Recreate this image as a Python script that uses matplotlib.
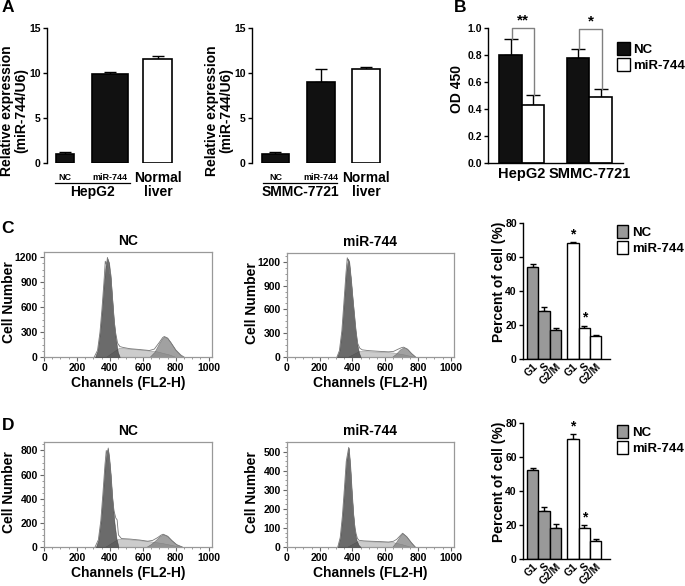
import numpy as np
import matplotlib
matplotlib.use("Agg")
import matplotlib.pyplot as plt
from matplotlib.patches import Patch
from matplotlib.ticker import MultipleLocator

plt.rcParams['font.family'] = ['Liberation Sans', 'DejaVu Sans']
plt.rcParams['font.weight'] = 'bold'
plt.rcParams['axes.labelweight'] = 'bold'
plt.rcParams['axes.titleweight'] = 'bold'

# ---- A: relative expression ----
expr_groups = ['NC', 'miR-744', 'Normal liver']
hepg2_expr = [1.0, 9.9, 11.6]
hepg2_err = [0.2, 0.2, 0.3]
smmc_expr = [1.0, 9.0, 10.4]
smmc_err = [0.25, 1.4, 0.25]

# ---- B: OD 450 ----
od_cells = ['HepG2', 'SMMC-7721']
od_nc = [0.80, 0.78]
od_nc_err = [0.12, 0.065]
od_mir = [0.43, 0.49]
od_mir_err = [0.075, 0.06]

# ---- C / D: cell cycle percentages ----
phases = ['G1', 'S', 'G2/M']
c_nc = [54, 28.5, 17]
c_nc_err = [2, 1.8, 1.2]
c_mir = [68, 18, 13.5]
c_mir_err = [1, 1.7, 0.8]
d_nc = [52.5, 28.5, 18]
d_nc_err = [1, 1.8, 2.7]
d_mir = [70.5, 18.5, 10.5]
d_mir_err = [3, 1.5, 1.5]

# ---- C / D: flow histograms (channel, cell count) ----
c_nc_g1_ch = [310, 325, 340, 352, 364, 375, 385, 395, 405, 415, 425, 435, 448, 460]
c_nc_g1_n = [0, 80, 300, 580, 900, 1120, 1185, 1130, 950, 680, 420, 230, 60, 0]
c_nc_s_ch = [375, 455, 520, 600, 680, 760, 800]
c_nc_s_n = [0, 110, 100, 85, 70, 30, 0]
c_nc_g2_ch = [640, 670, 700, 720, 730, 750, 770, 800, 830, 845]
c_nc_g2_n = [0, 60, 170, 230, 245, 225, 170, 80, 20, 0]
c_nc_raw_ch = [305, 325, 340, 352, 364, 372, 380, 385, 392, 398, 405, 415, 425, 435, 447, 461,
               480, 520, 580, 640, 670, 700, 720, 730, 750, 770, 800, 830, 850]
c_nc_raw_n = [0, 80, 300, 580, 900, 1150, 1100, 1195, 1100, 1000, 1000, 720, 450, 290, 165, 125,
              115, 100, 90, 78, 95, 175, 232, 246, 228, 175, 85, 25, 0]

c_mir_g1_ch = [305, 320, 335, 348, 360, 372, 380, 392, 404, 416, 428, 440, 450]
c_mir_g1_n = [0, 80, 330, 700, 1050, 1240, 1200, 950, 650, 380, 170, 50, 0]
c_mir_s_ch = [370, 440, 500, 600, 650, 720, 780]
c_mir_s_n = [0, 75, 72, 64, 56, 30, 0]
c_mir_g2_ch = [640, 665, 690, 712, 735, 760, 785]
c_mir_g2_n = [0, 40, 95, 122, 100, 45, 0]
c_mir_raw_ch = [305, 320, 335, 348, 360, 368, 375, 385, 398, 410, 422, 432, 445, 460, 500, 560,
                620, 650, 680, 700, 712, 735, 760, 785]
c_mir_raw_n = [0, 80, 330, 700, 1050, 1250, 1200, 1100, 820, 580, 320, 170, 110, 90, 80, 72,
               65, 70, 100, 118, 124, 100, 45, 0]

d_nc_g1_ch = [315, 330, 345, 358, 370, 380, 388, 396, 405, 415, 428, 440, 452]
d_nc_g1_n = [0, 60, 220, 450, 680, 790, 815, 740, 600, 400, 200, 70, 0]
d_nc_s_ch = [370, 450, 500, 580, 650, 720, 780, 830]
d_nc_s_n = [0, 68, 66, 56, 46, 32, 15, 0]
d_nc_g2_ch = [620, 650, 680, 700, 723, 750, 775, 805, 840]
d_nc_g2_n = [0, 25, 60, 88, 106, 90, 55, 20, 0]
d_nc_raw_ch = [310, 330, 345, 358, 370, 378, 384, 390, 396, 405, 415, 425, 436, 444, 452, 470,
               520, 580, 630, 660, 690, 710, 723, 750, 775, 805, 840]
d_nc_raw_n = [0, 60, 220, 450, 680, 800, 760, 820, 740, 600, 420, 300, 240, 225, 100, 70,
              66, 58, 48, 55, 78, 98, 106, 90, 55, 20, 0]

d_mir_g1_ch = [310, 325, 338, 350, 362, 377, 386, 395, 405, 415, 425, 438, 450]
d_mir_g1_n = [0, 50, 160, 300, 450, 520, 430, 300, 170, 80, 35, 10, 0]
d_mir_s_ch = [365, 430, 500, 580, 650, 700, 760]
d_mir_s_n = [0, 30, 30, 27, 25, 15, 0]
d_mir_g2_ch = [642, 665, 690, 706, 730, 760, 783]
d_mir_g2_n = [0, 25, 58, 72, 55, 22, 0]
d_mir_raw_ch = [310, 325, 338, 350, 362, 377, 386, 395, 405, 415, 422, 430, 440, 470, 520, 580,
                620, 650, 670, 690, 706, 730, 760, 783]
d_mir_raw_n = [0, 50, 160, 300, 450, 522, 430, 300, 180, 100, 70, 45, 35, 32, 30, 28,
               26, 30, 40, 58, 72, 55, 22, 0]

W, H = 685, 586
fig = plt.figure(figsize=(W / 100, H / 100), dpi=100)


def px_axes(left, top, right, bottom):
    # axes placed by pixel box (origin top-left)
    return fig.add_axes([left / W, 1 - bottom / H, (right - left) / W, (bottom - top) / H])


def below(ax, x, px, text, size, **kw):
    ax.annotate(text, xy=(x, 0), xycoords=('data', 'axes fraction'),
                xytext=(0, -px * 0.72), textcoords='offset points',
                ha='center', va='center', fontsize=size, annotation_clip=False, **kw)


def style_bar_axes(ax):
    for s in ['top', 'right']:
        ax.spines[s].set_visible(False)
    ax.spines['left'].set_linewidth(1.0)
    ax.spines['bottom'].set_linewidth(1.0)
    ax.tick_params(axis='y', labelsize=7.5, length=3, width=1, pad=1.5)


def up_err(ax, x, y, err, cap):
    ax.errorbar(x, y, yerr=[np.zeros(len(err)), err], fmt='none', ecolor='black',
                elinewidth=1.0, capsize=cap, capthick=1.0, zorder=1)


# ---------------- Panel A ----------------
def expr_panel(ax, vals, errs, pos, widths, line_span, cell):
    colors = ['#111111', '#111111', 'white']
    up_err(ax, pos, vals, errs, 4)
    ax.bar(pos, vals, width=widths, color=colors, edgecolor='black', linewidth=1.2, zorder=2)
    style_bar_axes(ax)
    ax.spines['bottom'].set_visible(False)
    ax.set_ylim(0, 15)
    ax.set_yticks([0, 5, 10, 15])
    ax.set_xticks([])
    ax.set_xlim(0, 140)
    below(ax, pos[0], 14, expr_groups[0], 6.5)
    below(ax, pos[1], 14, expr_groups[1], 6.5)
    ax.plot(line_span, [-20 / 135] * 2, transform=ax.get_xaxis_transform(),
            color='black', lw=0.9, clip_on=False)
    below(ax, sum(line_span) / 2, 29, cell, 10)
    below(ax, pos[2], 22, 'Normal\nliver', 10, linespacing=1.0)
    ax.set_ylabel('Relative expression\n(miR-744/U6)', fontsize=10, linespacing=1.05)
    ax.yaxis.set_label_coords(-0.135, 0.39)


axA1 = px_axes(47, 28, 187, 163)
expr_panel(axA1, hepg2_expr, hepg2_err, [17.5, 63, 111], [18, 36, 29], [8, 83], 'HepG2')

axA2 = px_axes(252, 28, 392, 163)
expr_panel(axA2, smmc_expr, smmc_err, [23.5, 69, 114], [27.5, 27.5, 27.5], [11, 85], 'SMMC-7721')

# ---------------- Panel B ----------------
axB = px_axes(488, 28, 623, 163)
xb = np.arange(len(od_cells))
bw = 1 / 3
up_err(axB, xb - bw / 2, od_nc, od_nc_err, 5)
up_err(axB, xb + bw / 2, od_mir, od_mir_err, 5)
axB.bar(xb - bw / 2, od_nc, width=bw, color='#111111', edgecolor='black', linewidth=1.2,
        zorder=2, label='NC')
axB.bar(xb + bw / 2, od_mir, width=bw, color='white', edgecolor='black', linewidth=1.2,
        zorder=2, label='miR-744')
style_bar_axes(axB)
axB.set_xlim(-0.5, 1.5)
axB.set_ylim(0, 1.0)
axB.set_yticks(np.arange(0, 1.01, 0.2))
axB.set_yticklabels([f'{v:.1f}' for v in np.arange(0, 1.01, 0.2)])
axB.set_xticks(xb)
axB.set_xticklabels(od_cells, fontsize=10.5)
axB.tick_params(axis='x', length=0, pad=3)
axB.set_ylabel('OD 450', fontsize=10)
axB.yaxis.set_label_coords(-0.18, 0.55)
# significance brackets
for i, (tops, stars) in enumerate(zip([(0.92, 0.505), (0.845, 0.55)], ['**', '*'])):
    xl, xr = xb[i] - bw / 2 + 0.02, xb[i] + bw / 2 + 0.02
    ytop = 1.0 if i == 0 else 0.99
    axB.plot([xl, xl, xr, xr], [tops[0], ytop, ytop, tops[1]], color='#808080', lw=1.0,
             clip_on=False, zorder=3)
    axB.text((xl + xr) / 2, ytop + 0.005, stars, ha='center', va='bottom', fontsize=11)
axB.legend(handles=[Patch(facecolor='#111111', edgecolor='black', label='NC'),
                    Patch(facecolor='white', edgecolor='black', label='miR-744')],
           loc='upper left', bbox_to_anchor=(617 / W, 1 - 42 / H), bbox_transform=fig.transFigure,
           frameon=False, fontsize=9.5, handlelength=0.95, handleheight=1.1,
           handletextpad=0.25, labelspacing=0.2, borderaxespad=0, borderpad=0)


# ---------------- Histograms ----------------
def hist_panel(ax, title, ymax, ystep, g1, s, g2, raw):
    ax.fill_between(s[0], s[1], color='#cccccc', lw=0.4, edgecolor='#9a9a9a', zorder=1)
    ax.fill_between(g2[0], g2[1], color='#7a7a7a', alpha=0.7, lw=0.4, edgecolor='#555555', zorder=2)
    ax.fill_between(g1[0], g1[1], color='#3a3a3a', alpha=0.75, lw=0.4, edgecolor='#333333', zorder=3)
    ax.plot(raw[0], raw[1], color='#777777', lw=0.6, zorder=4)
    ax.set_xlim(0, 1020)
    ax.set_ylim(0, ymax)
    ax.xaxis.set_major_locator(MultipleLocator(200))
    ax.xaxis.set_minor_locator(MultipleLocator(50))
    ax.yaxis.set_major_locator(MultipleLocator(ystep))
    ax.yaxis.set_minor_locator(MultipleLocator(ystep / 4))
    for sp in ax.spines.values():
        sp.set_color('#999999')
        sp.set_linewidth(0.9)
    ax.tick_params(which='major', labelsize=7.5, length=3, width=0.8, color='#666666', pad=1.5)
    ax.tick_params(which='minor', length=1.5, width=0.6, color='#888888')
    ax.set_title(title, fontsize=10, pad=5)
    ax.set_xlabel('Channels (FL2-H)', fontsize=10, labelpad=2)
    ax.set_ylabel('Cell Number', fontsize=10)
    ax.yaxis.set_label_coords(-0.165, 0.52)


axC1 = px_axes(44, 252, 212, 357)
hist_panel(axC1, 'NC', 1260, 300, (c_nc_g1_ch, c_nc_g1_n), (c_nc_s_ch, c_nc_s_n),
           (c_nc_g2_ch, c_nc_g2_n), (c_nc_raw_ch, c_nc_raw_n))
axC2 = px_axes(287, 253, 454, 357)
hist_panel(axC2, 'miR-744', 1310, 300, (c_mir_g1_ch, c_mir_g1_n), (c_mir_s_ch, c_mir_s_n),
           (c_mir_g2_ch, c_mir_g2_n), (c_mir_raw_ch, c_mir_raw_n))
axD1 = px_axes(44, 442, 212, 547)
hist_panel(axD1, 'NC', 870, 200, (d_nc_g1_ch, d_nc_g1_n), (d_nc_s_ch, d_nc_s_n),
           (d_nc_g2_ch, d_nc_g2_n), (d_nc_raw_ch, d_nc_raw_n))
axD2 = px_axes(287, 442, 454, 547)
hist_panel(axD2, 'miR-744', 550, 100, (d_mir_g1_ch, d_mir_g1_n), (d_mir_s_ch, d_mir_s_n),
           (d_mir_g2_ch, d_mir_g2_n), (d_mir_raw_ch, d_mir_raw_n))


# ---------------- Cell cycle bars ----------------
def cycle_panel(ax, nc, nc_err, mir, mir_err, legend_top):
    x_nc = np.arange(3)
    x_mir = np.arange(3) + 3.5
    up_err(ax, x_nc, nc, nc_err, 2.5)
    up_err(ax, x_mir, mir, mir_err, 2.5)
    ax.bar(x_nc, nc, width=1.0, color='#999999', edgecolor='black', linewidth=1.0, zorder=2)
    ax.bar(x_mir, mir, width=1.0, color='white', edgecolor='black', linewidth=1.0, zorder=2)
    style_bar_axes(ax)
    ax.set_xlim(-0.83, 6.74)
    ax.set_ylim(0, 80)
    ax.set_yticks([0, 20, 40, 60, 80])
    ax.set_xticks(list(x_nc) + list(x_mir))
    ax.set_xticklabels(phases * 2, rotation=45, ha='right', rotation_mode='anchor', fontsize=7.5)
    ax.tick_params(axis='x', length=0, pad=2)
    ax.set_ylabel('Percent of cell (%)', fontsize=10)
    ax.yaxis.set_label_coords(-0.2, 0.57)
    for i in [0, 1]:
        ax.annotate('*', xy=(x_mir[i], mir[i] + mir_err[i]), xytext=(0, 0.5),
                    textcoords='offset points', ha='center', va='bottom', fontsize=10)
    ax.legend(handles=[Patch(facecolor='#999999', edgecolor='black', label='NC'),
                       Patch(facecolor='white', edgecolor='black', label='miR-744')],
              loc='upper left', bbox_to_anchor=(617 / W, 1 - legend_top / H),
              bbox_transform=fig.transFigure, frameon=False, fontsize=9.5,
              handlelength=0.85, handleheight=1.1, handletextpad=0.3, labelspacing=0.2,
              borderaxespad=0, borderpad=0)


axC3 = px_axes(523, 223, 610, 359)
cycle_panel(axC3, c_nc, c_nc_err, c_mir, c_mir_err, 225)
axD3 = px_axes(523, 423, 610, 559)
cycle_panel(axD3, d_nc, d_nc_err, d_mir, d_mir_err, 425)

# panel letters
for letter, (lx, ly) in zip('ABCD', [(8, 8), (460, 8), (8, 229), (8, 426)]):
    fig.text(lx / W, 1 - ly / H, letter, fontsize=12.5, fontweight='bold', ha='center', va='center')

fig.savefig('out.png', dpi=100)
